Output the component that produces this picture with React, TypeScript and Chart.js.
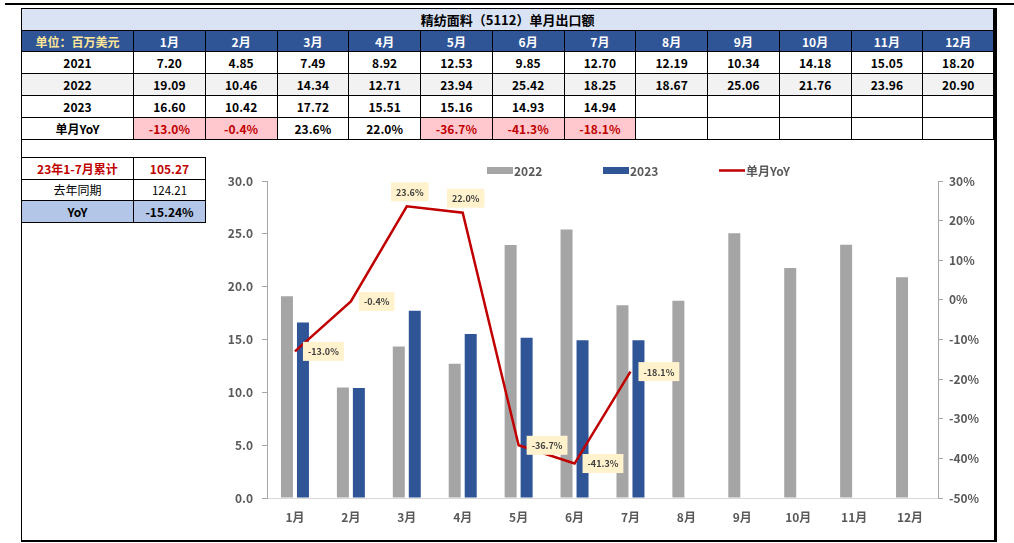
import React, { useEffect, useRef } from "react";
import { Chart, registerables } from "chart.js";

Chart.register(...registerables);

const months = ["1月", "2月", "3月", "4月", "5月", "6月", "7月", "8月", "9月", "10月", "11月", "12月"];
const v2021 = [7.2, 4.85, 7.49, 8.92, 12.53, 9.85, 12.7, 12.19, 10.34, 14.18, 15.05, 18.2];
const v2022 = [19.09, 10.46, 14.34, 12.71, 23.94, 25.42, 18.25, 18.67, 25.06, 21.76, 23.96, 20.9];
const v2023 = [16.6, 10.42, 17.72, 15.51, 15.16, 14.93, 14.94, null, null, null, null, null];
const yoy = [-13.0, -0.4, 23.6, 22.0, -36.7, -41.3, -18.1, null, null, null, null, null];
const leftTicks = { min: 0, max: 30, step: 5 };
const rightTicks = { min: -50, max: 30, step: 10 };
const cumLabel = "23年1-7月累计";
const cum2023 = 105.27;
const cumPrevLabel = "去年同期";
const cumPrev = 124.21;
const cumYoY = -15.24;
const title = "精纺面料（5112）单月出口额";
const unitLabel = "单位：百万美元";

const FONT = "'Noto Sans CJK SC', 'Noto Sans', sans-serif";
const GRAY = "#A5A5A5";
const BLUE = "#2F5597";
const RED = "#C00000";
const TICK = "#595959";

const legendPlugin = {
  id: "customLegend",
  afterDraw(chart: any) {
    const ctx = chart.ctx;
    const ca = chart.chartArea;
    const y = ca.top - 10.5;
    let x = ca.left + 220;
    ctx.save();
    ctx.font = `bold 12px ${FONT}`;
    ctx.textBaseline = "middle";
    ctx.textAlign = "left";
    chart.data.datasets.forEach((ds: any) => {
      if (ds.type === "line") {
        ctx.strokeStyle = ds.borderColor;
        ctx.lineWidth = 2.5;
        ctx.beginPath();
        ctx.moveTo(x, y);
        ctx.lineTo(x + 26, y);
        ctx.stroke();
      } else {
        ctx.fillStyle = ds.backgroundColor;
        ctx.fillRect(x, y - 3.5, 26, 7);
      }
      ctx.fillStyle = TICK;
      ctx.fillText(ds.label, x + 27, y + 0.5);
      x += 116;
    });
    ctx.restore();
  },
};

const labelPlugin = {
  id: "yoyLabels",
  afterDatasetsDraw(chart: any) {
    const idx = chart.data.datasets.findIndex((d: any) => d.type === "line");
    const meta = chart.getDatasetMeta(idx);
    const data = chart.data.datasets[idx].data;
    const ctx = chart.ctx;
    ctx.save();
    ctx.font = `bold 9px ${FONT}`;
    ctx.textBaseline = "middle";
    ctx.textAlign = "left";
    meta.data.forEach((pt: any, i: number) => {
      const v = data[i];
      if (v == null) return;
      const text = v.toFixed(1) + "%";
      const tw = ctx.measureText(text).width;
      const w = tw + 10;
      const h = 19;
      let bx: number, by: number;
      if (v > 10) {
        bx = pt.x + 3 - w / 2;
        by = pt.y - 5 - h;
      } else {
        bx = pt.x + 8;
        by = pt.y - h / 2;
      }
      ctx.fillStyle = "#FFF2CC";
      ctx.fillRect(bx, by, w, h);
      ctx.fillStyle = "#404040";
      ctx.fillText(text, bx + 5, by + h / 2 + 0.5);
    });
    ctx.restore();
  },
};

const cellBase: React.CSSProperties = {
  border: "1px solid #000",
  padding: 0,
  textAlign: "center",
  verticalAlign: "middle",
  fontWeight: "bold",
  fontSize: 12,
  fontFamily: FONT,
  color: "#000",
  whiteSpace: "nowrap",
  overflow: "hidden",
};

export default function App() {
  const ref = useRef<HTMLCanvasElement>(null);

  useEffect(() => {
    if (!ref.current) return;
    const chart = new Chart(ref.current, {
      type: "bar",
      data: {
        labels: months,
        datasets: [
          {
            type: "bar",
            label: "2022",
            data: v2022,
            backgroundColor: GRAY,
            yAxisID: "y",
            order: 1,
            barPercentage: 0.75,
            categoryPercentage: 0.572,
          },
          {
            type: "bar",
            label: "2023",
            data: v2023,
            backgroundColor: BLUE,
            yAxisID: "y",
            order: 2,
            barPercentage: 0.75,
            categoryPercentage: 0.572,
          },
          {
            type: "line",
            label: "单月YoY",
            data: yoy,
            borderColor: RED,
            backgroundColor: RED,
            borderWidth: 2.5,
            pointRadius: 0,
            tension: 0,
            yAxisID: "y1",
            order: 0,
            spanGaps: false,
          },
        ] as any,
      },
      options: {
        animation: false,
        responsive: true,
        maintainAspectRatio: false,
        layout: { padding: { top: 41, left: 0, right: 0, bottom: 0 } },
        plugins: { legend: { display: false }, tooltip: { enabled: false }, title: { display: false } },
        scales: {
          x: {
            grid: { display: false, drawTicks: false },
            border: { display: true, color: "#D9D9D9", width: 1 },
            ticks: { color: TICK, font: { family: FONT, size: 12, weight: "bold" }, padding: 12 },
            afterFit(s: any) {
              s.height = 40;
            },
          },
          y: {
            position: "left",
            min: leftTicks.min,
            max: leftTicks.max,
            grid: { display: true, drawOnChartArea: false, drawTicks: true, tickLength: 5, color: "#A6A6A6" },
            border: { display: true, color: "#A6A6A6", width: 1 },
            ticks: {
              stepSize: leftTicks.step,
              color: TICK,
              font: { family: FONT, size: 12, weight: "bold" },
              padding: 9,
              callback: (v: any) => Number(v).toFixed(1),
            },
            afterFit(s: any) {
              s.width = 67;
            },
          },
          y1: {
            position: "right",
            min: rightTicks.min,
            max: rightTicks.max,
            grid: { display: true, drawOnChartArea: false, drawTicks: true, tickLength: 5, color: "#A6A6A6" },
            border: { display: true, color: "#A6A6A6", width: 1 },
            ticks: {
              stepSize: rightTicks.step,
              color: TICK,
              font: { family: FONT, size: 12, weight: "bold" },
              padding: 6,
              callback: (v: any) => v + "%",
            },
            afterFit(s: any) {
              s.width = 57;
            },
          },
        },
      } as any,
      plugins: [legendPlugin, labelPlugin],
    });
    return () => chart.destroy();
  }, []);

  const colW = 71.75;
  const fmt2 = (v: number | null) => (v == null ? "" : v.toFixed(2));

  return (
    <div style={{ position: "absolute", left: 0, top: 0, width: 1014, height: 543, background: "#fff", overflow: "hidden" }}>
      <div style={{ position: "absolute", left: 5, top: 3, width: 1009, height: 2, background: "#000" }} />
      <div
        style={{
          position: "absolute",
          left: 21,
          top: 8,
          width: 976,
          height: 534,
          boxSizing: "border-box",
          borderLeft: "1px solid #000",
          borderTop: "1px solid #000",
          borderRight: "3px solid #000",
          borderBottom: "2px solid #000",
        }}
      />
      <table
        style={{
          position: "absolute",
          left: 21,
          top: 8,
          width: 974,
          borderCollapse: "collapse",
          tableLayout: "fixed",
        }}
      >
        <colgroup>
          <col style={{ width: 112 }} />
          {months.map((m) => (
            <col key={m} style={{ width: colW }} />
          ))}
        </colgroup>
        <tbody>
          <tr style={{ height: 22 }}>
            <td colSpan={13} style={{ ...cellBase, fontSize: 13, background: "#DAE3F3", borderRight: "3px solid #000" }}>
              {title}
            </td>
          </tr>
          <tr style={{ height: 21 }}>
            <td style={{ ...cellBase, background: BLUE, color: "#FFE699" }}>{unitLabel}</td>
            {months.map((m, i) => (
              <td key={m} style={{ ...cellBase, background: BLUE, color: "#fff", borderRight: i === 11 ? "3px solid #000" : cellBase.border }}>
                {m}
              </td>
            ))}
          </tr>
          {[
            { label: "2021", vals: v2021, bg: "#fff" },
            { label: "2022", vals: v2022, bg: "#F2F2F2" },
            { label: "2023", vals: v2023, bg: "#fff" },
          ].map((r) => (
            <tr key={r.label} style={{ height: 22 }}>
              <td style={{ ...cellBase, background: r.bg }}>{r.label}</td>
              {r.vals.map((v, i) => (
                <td key={i} style={{ ...cellBase, background: r.bg, borderRight: i === 11 ? "3px solid #000" : cellBase.border }}>
                  {fmt2(v as any)}
                </td>
              ))}
            </tr>
          ))}
          <tr style={{ height: 22 }}>
            <td style={cellBase}>单月YoY</td>
            {yoy.map((v, i) => {
              const neg = v != null && v < 0;
              return (
                <td
                  key={i}
                  style={{
                    ...cellBase,
                    background: neg ? "#FFC7CE" : "#fff",
                    color: neg ? RED : "#000",
                    borderRight: i === 11 ? "3px solid #000" : cellBase.border,
                  }}
                >
                  {v == null ? "" : v.toFixed(1) + "%"}
                </td>
              );
            })}
          </tr>
        </tbody>
      </table>

      <table
        style={{
          position: "absolute",
          left: 21,
          top: 157,
          width: 184,
          borderCollapse: "collapse",
          tableLayout: "fixed",
        }}
      >
        <colgroup>
          <col style={{ width: 112 }} />
          <col style={{ width: 72 }} />
        </colgroup>
        <tbody>
          <tr style={{ height: 21.5 }}>
            <td style={{ ...cellBase, color: RED }}>{cumLabel}</td>
            <td style={{ ...cellBase, color: RED }}>{cum2023.toFixed(2)}</td>
          </tr>
          <tr style={{ height: 21.5 }}>
            <td style={{ ...cellBase, fontWeight: "normal" }}>{cumPrevLabel}</td>
            <td style={{ ...cellBase, fontWeight: "normal", fontSize: 11.5 }}>{cumPrev.toFixed(2)}</td>
          </tr>
          <tr style={{ height: 21.5 }}>
            <td style={{ ...cellBase, background: "#B4C6E7" }}>YoY</td>
            <td style={{ ...cellBase, background: "#B4C6E7" }}>{cumYoY.toFixed(2) + "%"}</td>
          </tr>
        </tbody>
      </table>

      <div style={{ position: "absolute", left: 200, top: 140, width: 795, height: 398 }}>
        <canvas ref={ref} />
      </div>
    </div>
  );
}
